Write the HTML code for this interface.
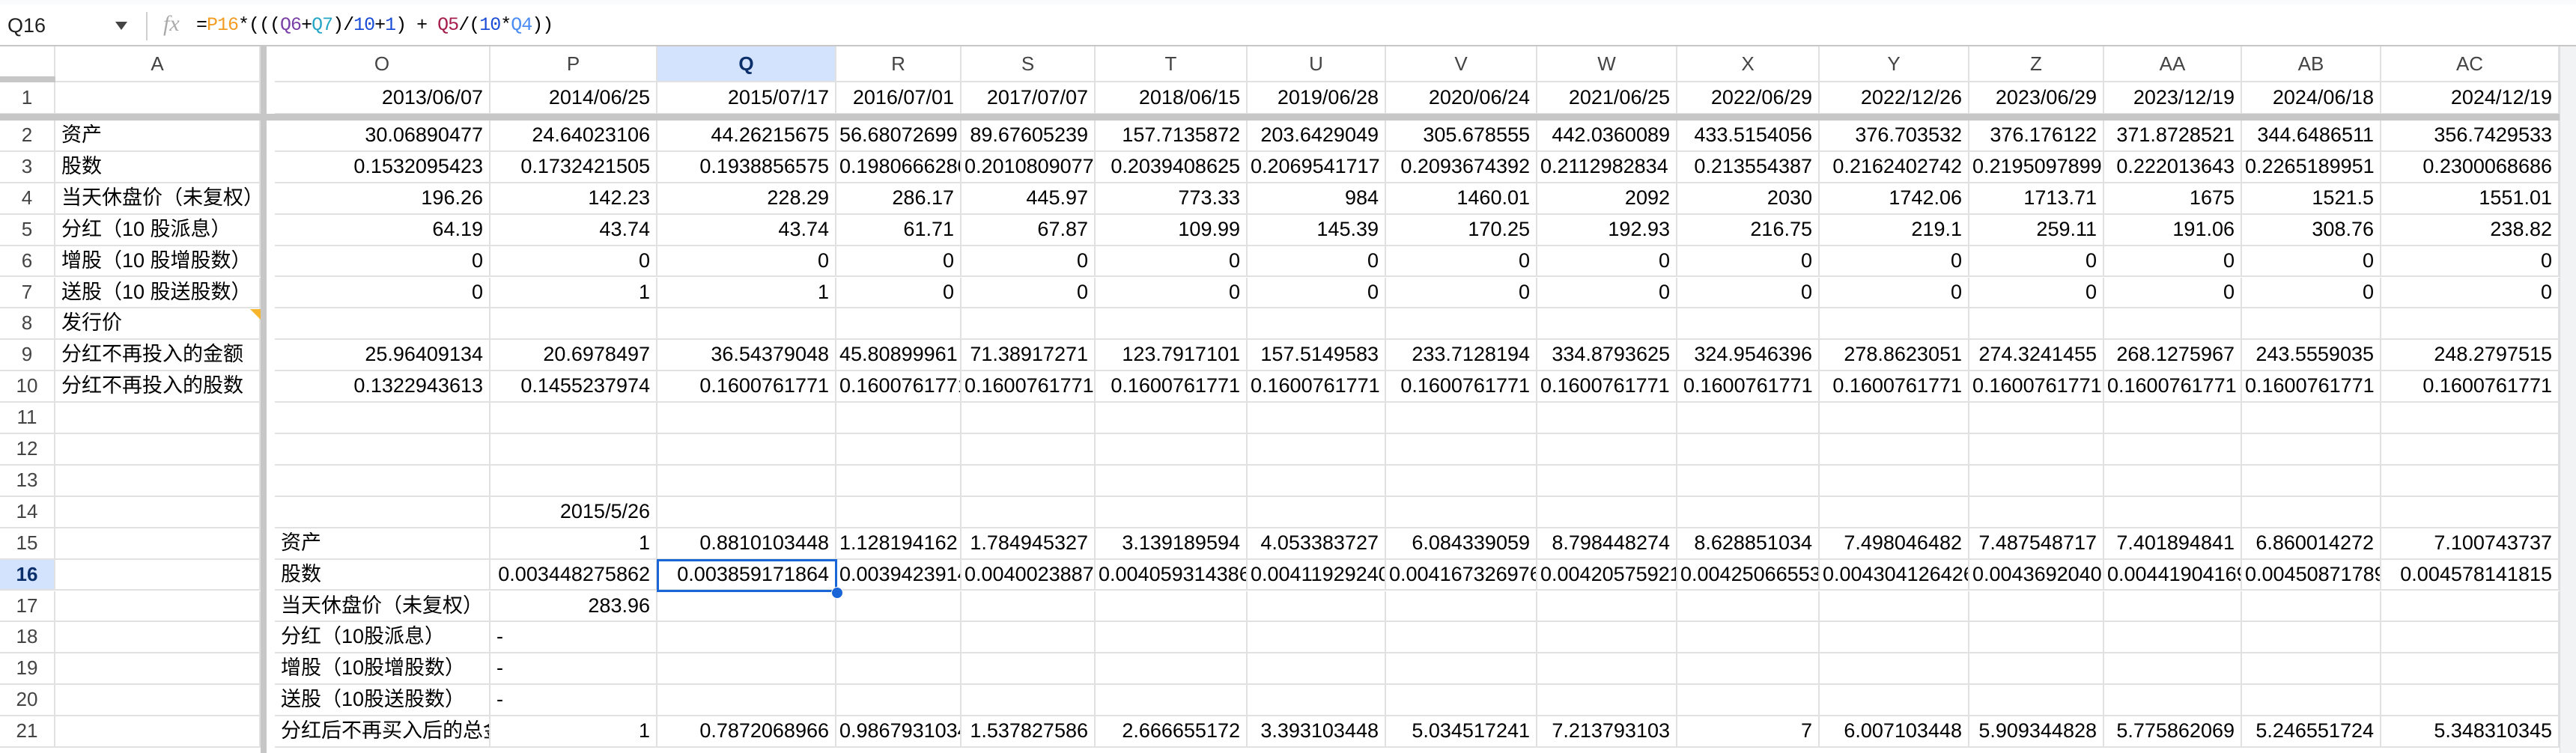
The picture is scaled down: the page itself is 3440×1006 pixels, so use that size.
<!DOCTYPE html>
<html><head><meta charset="utf-8">
<style>
html,body{margin:0;padding:0;background:#fff;width:3440px;height:1006px;overflow:hidden;font-family:"Liberation Sans","Noto Sans CJK SC",sans-serif;}
#topstrip{position:absolute;left:0;top:0;width:3440px;height:6px;background:#f9fbfd;}
#fbar{position:absolute;left:0;top:6px;width:3440px;height:54px;border-bottom:2px solid #c7c7c7;background:#fff;}
.c{position:absolute;box-sizing:border-box;border-right:2px solid #e1e1e1;border-bottom:2px solid #e1e1e1;font-size:27px;line-height:40px;white-space:nowrap;overflow:hidden;color:#000;padding:0 8px;}
.h{color:#444;text-align:center;font-size:26px;}
.r{text-align:right;}
.l{text-align:left;}
.mono{font-family:"Liberation Mono",monospace;}
</style></head><body>
<div id="topstrip"></div>
<div id="fbar">
  <div style="position:absolute;left:10px;top:6px;font-size:27px;line-height:44px;color:#1f1f1f;">Q16</div>
  <div style="position:absolute;left:154px;top:23px;width:0;height:0;border-left:8px solid transparent;border-right:8px solid transparent;border-top:11px solid #444;"></div>
  <div style="position:absolute;left:195px;top:10px;width:2px;height:38px;background:#d0d0d0;"></div>
  <div style="position:absolute;left:218px;top:4px;font-size:30px;font-style:italic;font-family:'Liberation Serif',serif;color:#aaa;line-height:44px;">fx</div>
  <div class="mono" style="position:absolute;left:262px;top:6px;font-size:25px;line-height:44px;color:#000;letter-spacing:-1px;">=<span style="color:#f29d21">P16</span>*(((<span style="color:#7b3fa8">Q6</span>+<span style="color:#26a6c6">Q7</span>)/<span style="color:#1a4dd6">10</span>+<span style="color:#1a4dd6">1</span>) + <span style="color:#a61e4d">Q5</span>/(<span style="color:#1a4dd6">10</span>*<span style="color:#4a8cf4">Q4</span>))</div>
</div>
<div id="grid"></div>
<script>
const colNames=["O","P","Q","R","S","T","U","V","W","X","Y","Z","AA","AB","AC"];
const colEdges=[367,655,878,1117,1284,1463,1666,1851,2053,2240,2430,2630,2810,2994,3180,3418];
const dates=["2013/06/07","2014/06/25","2015/07/17","2016/07/01","2017/07/07","2018/06/15","2019/06/28","2020/06/24","2021/06/25","2022/06/29","2022/12/26","2023/06/29","2023/12/19","2024/06/18","2024/12/19"];
const labelsA={2:"资产",3:"股数",4:"当天休盘价（未复权）",5:"分红（10 股派息）",6:"增股（10 股增股数）",7:"送股（10 股送股数）",8:"发行价",9:"分红不再投入的金额",10:"分红不再投入的股数"};
const row2=["30.06890477","24.64023106","44.26215675","56.68072699","89.67605239","157.7135872","203.6429049","305.678555","442.0360089","433.5154056","376.703532","376.176122","371.8728521","344.6486511","356.7429533"];
const row3=["0.1532095423","0.1732421505","0.1938856575","0.1980666280","0.2010809077","0.2039408625","0.2069541717","0.2093674392","0.2112982834","0.213554387","0.2162402742","0.2195097899","0.222013643","0.2265189951","0.2300068686"];
const row4=["196.26","142.23","228.29","286.17","445.97","773.33","984","1460.01","2092","2030","1742.06","1713.71","1675","1521.5","1551.01"];
const row5=["64.19","43.74","43.74","61.71","67.87","109.99","145.39","170.25","192.93","216.75","219.1","259.11","191.06","308.76","238.82"];
const row6=["0","0","0","0","0","0","0","0","0","0","0","0","0","0","0"];
const row7=["0","1","1","0","0","0","0","0","0","0","0","0","0","0","0"];
const row9=["25.96409134","20.6978497","36.54379048","45.80899961","71.38917271","123.7917101","157.5149583","233.7128194","334.8793625","324.9546396","278.8623051","274.3241455","268.1275967","243.5559035","248.2797515"];
const row10=["0.1322943613","0.1455237974","0.1600761771","0.1600761771","0.1600761771","0.1600761771","0.1600761771","0.1600761771","0.1600761771","0.1600761771","0.1600761771","0.1600761771","0.1600761771","0.1600761771","0.1600761771"];
const labelsO={15:"资产",16:"股数",17:"当天休盘价（未复权）",18:"分红（10股派息）",19:"增股（10股增股数）",20:"送股（10股送股数）",21:"分红后不再买入后的总金额"};
const row15=["1","0.8810103448","1.128194162","1.784945327","3.139189594","4.053383727","6.084339059","8.798448274","8.628851034","7.498046482","7.487548717","7.401894841","6.860014272","7.100743737"];
const row16=["0.003448275862","0.003859171864","0.003942391403","0.0040023887","0.004059314386","0.004119292400","0.004167326976","0.004205759210","0.00425066553","0.004304126426","0.004369204070","0.004419041696","0.004508717891","0.004578141815"];
const row21=["1","0.7872068966","0.9867931034","1.537827586","2.666655172","3.393103448","5.034517241","7.213793103","7","6.007103448","5.909344828","5.775862069","5.246551724","5.348310345"];
const dataRows={2:row2,3:row3,4:row4,5:row5,6:row6,7:row7,9:row9,10:row10};
const lowerRows={15:row15,16:row16,21:row21};

const grid=document.getElementById('grid');
function rowTop(r){ if(r===0) return 62; if(r===1) return 110; return 161+(r-2)*41.9; }
function rowH(r){ if(r===0) return 48; if(r===1) return 43; return 41.9; }
function cell(x,y,w,h,txt,cls,name,extra){
  const d=document.createElement('div');
  d.className='c '+cls;
  d.style.left=x+'px';d.style.top=y+'px';d.style.width=w+'px';d.style.height=h+'px';
  d.style.lineHeight=(h-2)+'px';
  if(extra) d.style.cssText+=extra;
  d.textContent=txt;
  
  
  grid.appendChild(d);
  return d;
}
// header row
cell(0,62,74,48,"","h","corner-cell","");
cell(74,62,274,48,"A","h","column-header-a","");
for(let i=0;i<colNames.length;i++){
  const sel=colNames[i]==="Q";
  cell(colEdges[i],62,colEdges[i+1]-colEdges[i],48,colNames[i],"h","column-header-"+colNames[i].toLowerCase(),sel?"background:#d3e3fd;color:#0b2f6b;font-weight:bold;":"");
}
// rows
for(let r=1;r<=21;r++){
  const y=rowTop(r),h=rowH(r);
  const sel=r===16;
  cell(0,y,74,h,String(r),"h","row-header-"+r,sel?"background:#d3e3fd;color:#0b2f6b;font-weight:bold;":"");
  cell(74,y,274,h,labelsA[r]||"","l","cell-a"+r,"");
  for(let i=0;i<colNames.length;i++){
    const x=colEdges[i],w=colEdges[i+1]-colEdges[i];
    let txt="",cls="r";
    if(r===1) txt=dates[i];
    else if(dataRows[r]) txt=dataRows[r][i];
    else if(i===0 && labelsO[r]){txt=labelsO[r];cls="l";}
    else if(i>0 && lowerRows[r]) txt=lowerRows[r][i-1];
    else if(i===1 && r===14) txt="2015/5/26";
    else if(i===1 && r===17) txt="283.96";
    else if(i===1 && r>=18 && r<=20){txt="-";cls="l";}
    const d=cell(x,y,w,h,txt,cls,"cell-"+colNames[i].toLowerCase()+r,"");
    if(cls==="r" && d.scrollWidth>d.clientWidth+1){ d.classList.remove('r'); d.classList.add('l'); d.style.paddingLeft='4px'; }
  }
}
// frozen separators
const fz=document.createElement('div');
fz.style.cssText='position:absolute;left:0;top:152px;width:3418px;height:9px;background:#c7c7c7;';


grid.appendChild(fz);
const fv=document.createElement('div');
fv.style.cssText='position:absolute;left:348px;top:62px;width:8px;height:944px;background:#c7c7c7;';


grid.appendChild(fv);
const cb=document.createElement('div');
cb.style.cssText='position:absolute;left:0;top:102px;width:74px;height:8px;background:#c7c7c7;';


grid.appendChild(cb);
// comment marker
const cm=document.createElement('div');
cm.style.cssText='position:absolute;left:334px;top:413px;width:0;height:0;border-left:14px solid transparent;border-top:14px solid #f6b52a;';


grid.appendChild(cm);
// selection
const selb=document.createElement('div');
selb.style.cssText='position:absolute;left:877px;top:'+(rowTop(16)-1)+'px;width:241px;height:44px;box-sizing:border-box;border:3px solid #1a66d6;';


grid.appendChild(selb);
const hd=document.createElement('div');
hd.style.cssText='position:absolute;left:1110px;top:'+(rowTop(16)+36)+'px;width:14px;height:14px;border-radius:50%;background:#1a66d6;border:1px solid #fff;';


grid.appendChild(hd);
// right scrollbar area
const sb=document.createElement('div');
sb.style.cssText='position:absolute;left:3418px;top:62px;width:22px;height:944px;background:#f1f3f4;border-left:1px solid #dadce0;';


grid.appendChild(sb);
</script>
</body></html>
